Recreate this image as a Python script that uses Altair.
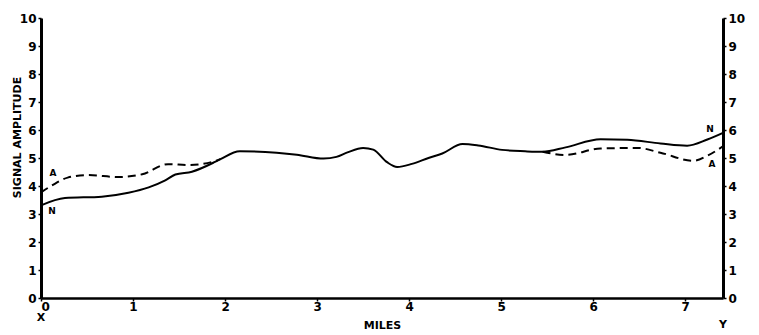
import altair as alt
import pandas as pd

# Curve N (solid)
miles_n = [0.00, 0.26, 0.66, 0.95, 1.17, 1.35, 1.46, 1.64, 1.89, 1.95, 2.16, 2.56, 2.78,
           3.07, 3.21, 3.33, 3.50, 3.61, 3.76, 3.87, 4.03, 4.21, 4.36, 4.58, 4.75, 5.01,
           5.26, 5.45, 5.70, 6.08, 6.37, 6.73, 7.02, 7.24, 7.41]
amp_n = [3.31, 3.57, 3.62, 3.76, 3.95, 4.20, 4.41, 4.51, 4.86, 4.96, 5.24, 5.19, 5.12,
         4.98, 5.04, 5.20, 5.36, 5.30, 4.85, 4.68, 4.79, 5.00, 5.16, 5.50, 5.45, 5.29,
         5.24, 5.22, 5.38, 5.67, 5.65, 5.52, 5.44, 5.66, 5.90]

# Curve A (dashed) where it separates from N
miles_a1 = [0.00, 0.15, 0.29, 0.51, 0.84, 1.10, 1.38, 1.60, 1.86, 1.95]
amp_a1 = [3.77, 4.08, 4.30, 4.39, 4.32, 4.42, 4.78, 4.75, 4.86, 4.96]
miles_a2 = [5.45, 5.70, 6.08, 6.48, 6.73, 7.09, 7.24, 7.41]
amp_a2 = [5.22, 5.11, 5.34, 5.36, 5.19, 4.90, 5.08, 5.42]

# Curve labels
label_text = ["A", "N", "N", "A"]
label_mile = [0.13, 0.12, 7.27, 7.29]
label_amp = [4.45, 3.12, 6.05, 4.80]

x_ticks = list(range(8))
y_ticks = list(range(11))

n_df = pd.DataFrame({"mile": miles_n, "amp": amp_n})
a_df = pd.DataFrame({
    "mile": miles_a1 + miles_a2,
    "amp": amp_a1 + amp_a2,
    "seg": [1] * len(miles_a1) + [2] * len(miles_a2),
})
lab_df = pd.DataFrame({"t": label_text, "mile": label_mile, "amp": label_amp})

FONT = "DejaVu Sans"
x_scale = alt.Scale(domain=[0, 7.41], nice=False, zero=False)
y_scale = alt.Scale(domain=[0, 10], nice=False)

x_axis = alt.Axis(values=x_ticks, format="d", title="MILES", domainWidth=2.5, tickSize=3,
                  labelPadding=0, titlePadding=7, titleFontSize=11,
                  titleFont=FONT, titleFontWeight="bold", titleColor="black")
left_axis = alt.Axis(values=y_ticks, orient="left", title="SIGNAL  AMPLITUDE",
                     domainWidth=3, tickSize=3, labelPadding=2,
                     titleX=-24, titleY=119, titleAngle=270, titleAlign="center",
                     titleBaseline="middle", titleFontSize=11, titleFont=FONT,
                     titleFontWeight="bold", titleColor="black")
right_axis = alt.Axis(values=y_ticks, orient="right", title=None,
                      domainWidth=3, tickSize=3, labelPadding=2)

X = alt.X("mile:Q", scale=x_scale, axis=x_axis)

line_n = alt.Chart(n_df).mark_line(color="black", strokeWidth=2, interpolate="monotone").encode(
    x=X,
    y=alt.Y("amp:Q", scale=y_scale, axis=left_axis),
)
line_a = alt.Chart(a_df).mark_line(color="black", strokeWidth=2, strokeDash=[8, 5],
                                   interpolate="monotone").encode(
    x=X,
    y=alt.Y("amp:Q", scale=y_scale, axis=None),
    detail="seg:N",
)
right = alt.Chart(n_df).mark_line(opacity=0).encode(
    x=X,
    y=alt.Y("amp:Q", scale=y_scale, axis=right_axis),
)
labels = alt.Chart(lab_df).mark_text(font=FONT, fontSize=9, fontWeight="bold",
                                     color="black").encode(
    x=X,
    y=alt.Y("amp:Q", scale=y_scale, axis=None),
    text="t:N",
)
end_df = pd.DataFrame({"t": ["X"], "mile": [0.0]})
end_df2 = pd.DataFrame({"t": ["Y"], "mile": [7.41]})
x_lab = alt.Chart(end_df).mark_text(font=FONT, fontSize=11, fontWeight="bold",
                                    color="black").encode(
    x=X, y=alt.value(300), text="t:N")
y_lab = alt.Chart(end_df2).mark_text(font=FONT, fontSize=11, fontWeight="bold",
                                     color="black").encode(
    x=X, y=alt.value(307), text="t:N")

chart = alt.layer(line_n, line_a, labels, x_lab, y_lab, right).resolve_axis(
    y="independent"
).properties(
    width=682, height=280, autosize="none",
    padding={"left": 41, "top": 18, "right": 36, "bottom": 37},
    background="white",
).configure_view(stroke=None).configure_axis(
    grid=False, domainColor="black", tickColor="black", tickWidth=1.5,
    labelColor="black", labelFont=FONT, labelFontSize=12, labelFontWeight="bold",
)

chart.save("out.html", embed_options={"renderer": "svg", "actions": False})
